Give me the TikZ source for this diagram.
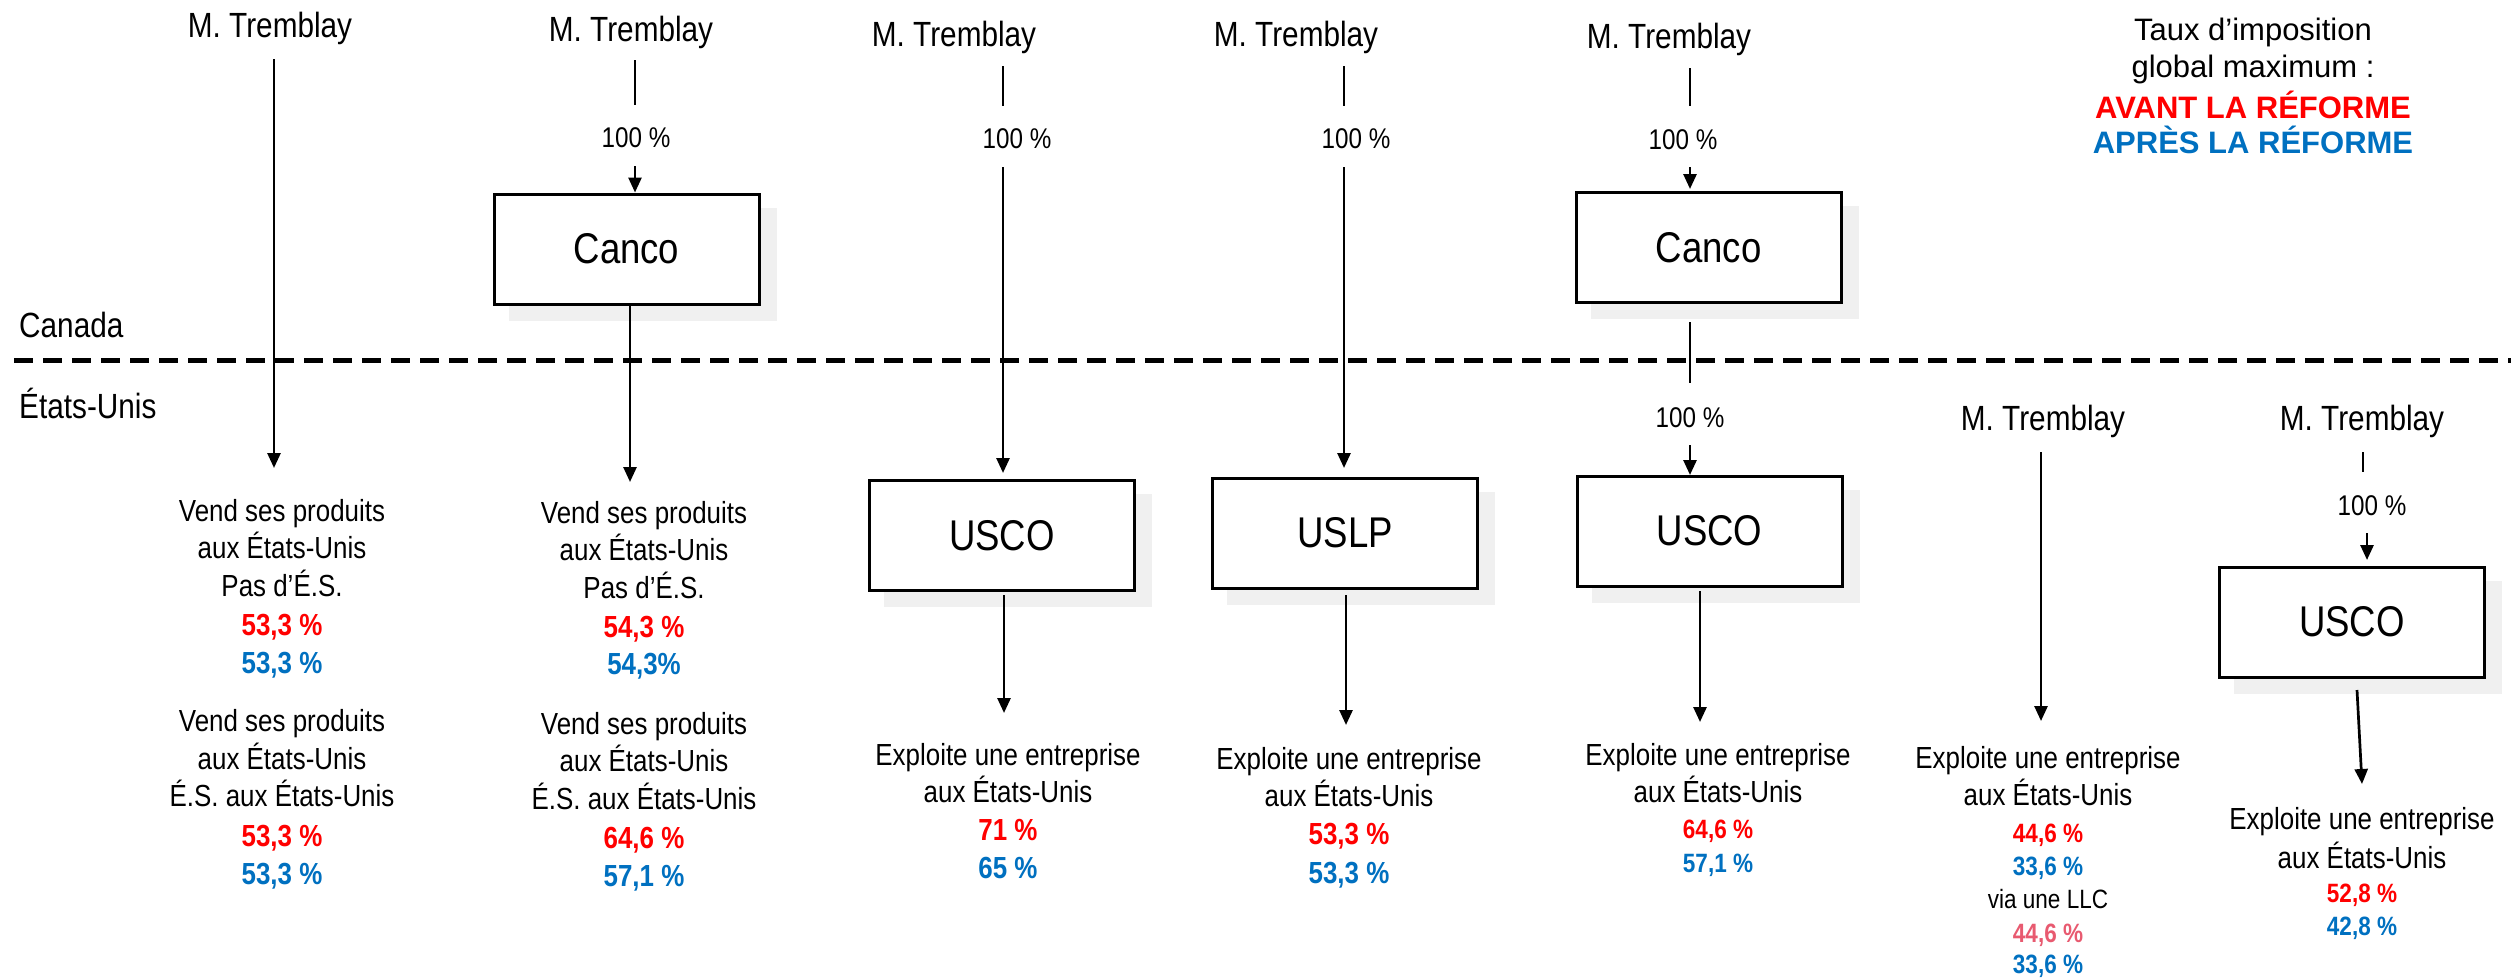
\documentclass[tikz,border=0pt]{standalone}
\usepackage{fontspec}
\setmainfont{Liberation Sans}
\newfontfamily\nar[FakeStretch=0.85]{Liberation Sans}
\usetikzlibrary{arrows.meta,backgrounds}
\definecolor{avant}{RGB}{255,0,0}
\definecolor{apres}{RGB}{0,112,192}
\definecolor{llc}{RGB}{232,90,112}
\definecolor{shadowc}{RGB}{240,240,240}
\begin{document}
\begin{tikzpicture}[x=1pt,y=-1pt,
  mt/.style={font=\nar\fontsize{35}{42}\selectfont, anchor=base, inner sep=0pt},
  tx/.style={font=\nar\fontsize{30.5}{37}\selectfont, anchor=base, inner sep=0pt},
  nb/.style={font=\nar\bfseries\fontsize{30.5}{37}\selectfont, anchor=base, inner sep=0pt},
  stx/.style={font=\nar\fontsize{26.5}{32}\selectfont, anchor=base, inner sep=0pt},
  snb/.style={font=\nar\bfseries\fontsize{26.5}{32}\selectfont, anchor=base, inner sep=0pt},
  pc/.style={font=\nar\fontsize{28.5}{34}\selectfont, anchor=base, inner sep=0pt},
  lg/.style={font=\fontsize{31}{38}\selectfont, anchor=base, inner sep=0pt},
  lgb/.style={font=\bfseries\fontsize{31}{38}\selectfont, anchor=base, inner sep=0pt},
  entity/.style={draw, line width=3pt, fill=white, minimum width=265pt, minimum height=110pt, inner sep=0pt, font=\nar\fontsize{43}{50}\selectfont},
  conn/.style={line width=2.7pt},
  arr/.style={line width=2.7pt, -{Triangle[length=15pt,width=13pt]}},
  border/.style={line width=5pt, dash pattern=on 19pt off 10pt},
  av/.style={text=avant}, ap/.style={text=apres}, lc/.style={text=llc}]
\useasboundingbox (0,0) rectangle (2511,978);

% border
\coordinate (bl) at (14,360);
\coordinate (br) at (2511,360);
\draw[border] (bl) -- (br);
\node[mt, anchor=base west] (canada) at (19,337) {Canada};
\node[mt, anchor=base west] (etatsunis) at (19,418) {États-Unis};

% legend
\node[lg] (lg1) at (2253,40) {Taux d’imposition};
\node[lg] (lg2) at (2253,77) {global maximum :};
\node[lgb, av] (lg3) at (2253,118) {AVANT LA RÉFORME};
\node[lgb, ap] (lg4) at (2253,153) {APRÈS LA RÉFORME};

% boxes
\node[entity] (canco1) at (626.5,249) {Canco};
\node[entity] (usco1) at (1002,535.5) {USCO};
\node[entity] (uslp) at (1345,533) {USLP};
\node[entity] (canco2) at (1708.5,247.5) {Canco};
\node[entity] (usco2) at (1709.5,531) {USCO};
\node[entity] (usco3) at (2352,622) {USCO};
\begin{scope}[on background layer]
\foreach \b in {canco1,usco1,uslp,canco2,usco2,usco3}
  \fill[shadowc] ([xshift=16pt,yshift=-15pt]\b.south west) rectangle ([xshift=16pt,yshift=-15pt]\b.north east);
\end{scope}

% column 1
\node[mt] (mt1) at (270,37) {M. Tremblay};
\coordinate (a1s) at (274,59);
\coordinate (a1e) at (274,468);
\draw[arr] (a1s) -- (a1e);
\node[tx] (t1a) at (282,521) {Vend ses produits};
\node[tx] (t1b) at (282,558) {aux États-Unis};
\node[tx] (t1c) at (282,596) {Pas d’É.S.};
\node[nb, av] (t1d) at (282,635) {53,3 \%};
\node[nb, ap] (t1e) at (282,673) {53,3 \%};
\node[tx] (t1f) at (282,731) {Vend ses produits};
\node[tx] (t1g) at (282,769) {aux États-Unis};
\node[tx] (t1h) at (282,806) {É.S. aux États-Unis};
\node[nb, av] (t1i) at (282,846) {53,3 \%};
\node[nb, ap] (t1j) at (282,884) {53,3 \%};

% column 2
\node[mt] (mt2) at (631,41) {M. Tremblay};
\coordinate (l2s) at (635,60);
\coordinate (l2e) at (635,105);
\draw[conn] (l2s) -- (l2e);
\node[pc] (p2) at (636,147) {100 \%};
\coordinate (a2s) at (635,166);
\draw[arr] (a2s) -- (canco1.north -| a2s);
\coordinate (b2e) at (630,482);
\draw[arr] (canco1.south -| b2e) -- (b2e);
\node[tx] (t2a) at (644,523) {Vend ses produits};
\node[tx] (t2b) at (644,560) {aux États-Unis};
\node[tx] (t2c) at (644,598) {Pas d’É.S.};
\node[nb, av] (t2d) at (644,637) {54,3 \%};
\node[nb, ap] (t2e) at (644,674) {54,3\%};
\node[tx] (t2f) at (644,734) {Vend ses produits};
\node[tx] (t2g) at (644,771) {aux États-Unis};
\node[tx] (t2h) at (644,809) {É.S. aux États-Unis};
\node[nb, av] (t2i) at (644,848) {64,6 \%};
\node[nb, ap] (t2j) at (644,886) {57,1 \%};

% column 3
\node[mt] (mt3) at (954,46) {M. Tremblay};
\coordinate (l3s) at (1003,66);
\coordinate (l3e) at (1003,106);
\draw[conn] (l3s) -- (l3e);
\node[pc] (p3) at (1017,148) {100 \%};
\coordinate (a3s) at (1003,167);
\coordinate (a3e) at (1003,473);
\draw[arr] (a3s) -- (a3e);
\coordinate (b3s) at (1004,595);
\coordinate (b3e) at (1004,713);
\draw[arr] (b3s) -- (b3e);
\node[tx] (t3a) at (1008,765) {Exploite une entreprise};
\node[tx] (t3b) at (1008,802) {aux États-Unis};
\node[nb, av] (t3c) at (1008,840) {71 \%};
\node[nb, ap] (t3d) at (1008,878) {65 \%};

% column 4
\node[mt] (mt4) at (1296,46) {M. Tremblay};
\coordinate (l4s) at (1344,66);
\coordinate (l4e) at (1344,106);
\draw[conn] (l4s) -- (l4e);
\node[pc] (p4) at (1356,148) {100 \%};
\coordinate (a4s) at (1344,167);
\coordinate (a4e) at (1344,468);
\draw[arr] (a4s) -- (a4e);
\coordinate (b4s) at (1346,595);
\coordinate (b4e) at (1346,725);
\draw[arr] (b4s) -- (b4e);
\node[tx] (t4a) at (1349,769) {Exploite une entreprise};
\node[tx] (t4b) at (1349,806) {aux États-Unis};
\node[nb, av] (t4c) at (1349,844) {53,3 \%};
\node[nb, ap] (t4d) at (1349,883) {53,3 \%};

% column 5
\node[mt] (mt5) at (1669,48) {M. Tremblay};
\coordinate (l5s) at (1690,68);
\coordinate (l5e) at (1690,106);
\draw[conn] (l5s) -- (l5e);
\node[pc] (p5) at (1683,149) {100 \%};
\coordinate (a5s) at (1690,167);
\coordinate (a5e) at (1690,189);
\draw[arr] (a5s) -- (a5e);
\coordinate (m5s) at (1690,322);
\coordinate (m5e) at (1690,383);
\draw[conn] (m5s) -- (m5e);
\node[pc] (p5b) at (1690,427) {100 \%};
\coordinate (c5s) at (1690,445);
\coordinate (c5e) at (1690,475);
\draw[arr] (c5s) -- (c5e);
\coordinate (b5s) at (1700,591);
\coordinate (b5e) at (1700,722);
\draw[arr] (b5s) -- (b5e);
\node[tx] (t5a) at (1718,765) {Exploite une entreprise};
\node[tx] (t5b) at (1718,802) {aux États-Unis};
\node[snb, av] (t5c) at (1718,838) {64,6 \%};
\node[snb, ap] (t5d) at (1718,872) {57,1 \%};

% column 6
\node[mt] (mt6) at (2043,430) {M. Tremblay};
\coordinate (a6s) at (2041,452);
\coordinate (a6e) at (2041,721);
\draw[arr] (a6s) -- (a6e);
\node[tx] (t6a) at (2048,768) {Exploite une entreprise};
\node[tx] (t6b) at (2048,805) {aux États-Unis};
\node[snb, av] (t6c) at (2048,842) {44,6 \%};
\node[snb, ap] (t6d) at (2048,875) {33,6 \%};
\node[stx] (t6e) at (2048,908) {via une LLC};
\node[snb, lc] (t6f) at (2048,942) {44,6 \%};
\node[snb, ap] (t6g) at (2048,973) {33,6 \%};

% column 7
\node[mt] (mt7) at (2362,430) {M. Tremblay};
\coordinate (l7s) at (2363,452);
\coordinate (l7e) at (2363,472);
\draw[conn] (l7s) -- (l7e);
\node[pc] (p7) at (2372,515) {100 \%};
\coordinate (a7s) at (2367,533);
\coordinate (a7e) at (2367,560);
\draw[arr] (a7s) -- (a7e);
\coordinate (b7s) at (2357,690);
\coordinate (b7e) at (2362,784);
\draw[arr] (b7s) -- (b7e);
\node[tx] (t7a) at (2362,829) {Exploite une entreprise};
\node[tx] (t7b) at (2362,868) {aux États-Unis};
\node[snb, av] (t7c) at (2362,902) {52,8 \%};
\node[snb, ap] (t7d) at (2362,935) {42,8 \%};
\end{tikzpicture}
\end{document}
